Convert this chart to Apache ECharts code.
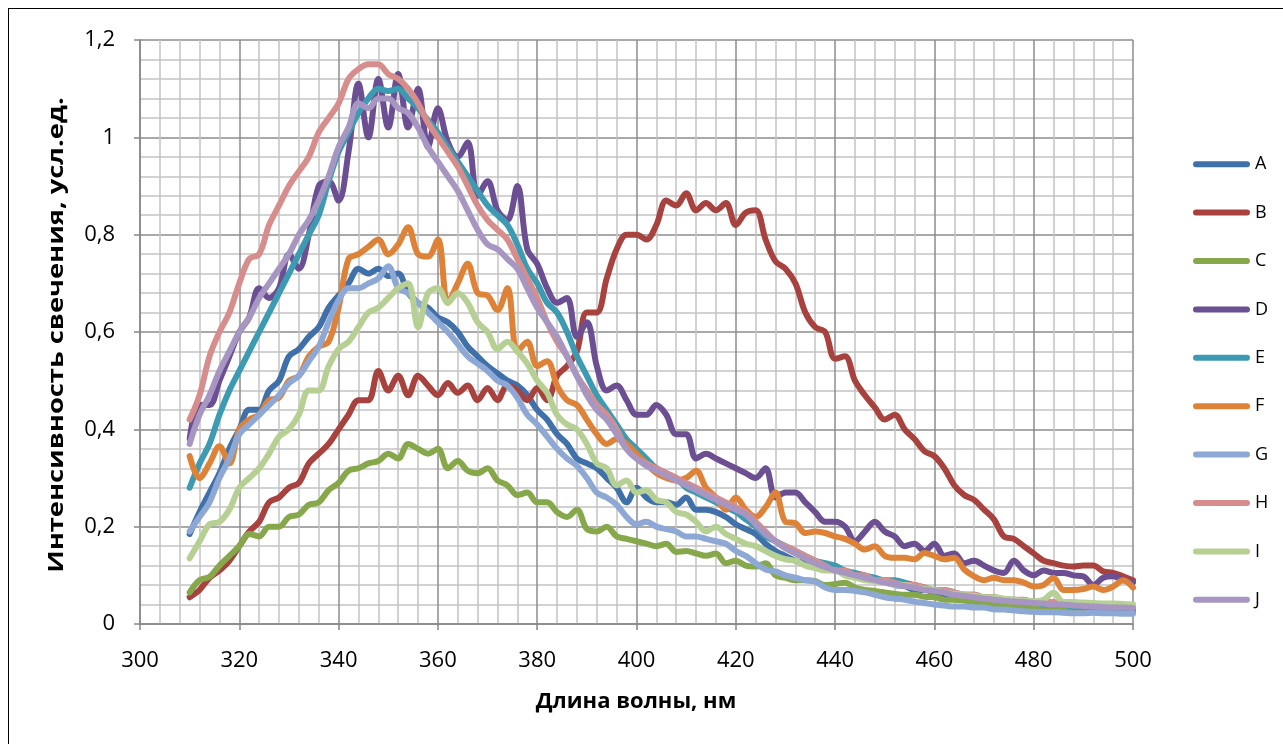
<!DOCTYPE html>
<html>
<head>
<meta charset="utf-8">
<script src="https://cdn.jsdelivr.net/npm/echarts@6/dist/echarts.min.js"></script>
<style>
  html, body { margin: 0; padding: 0; background: #fff; }
  #frame { position: absolute; left: 8px; top: 8px; width: 1290px; height: 760px; border-left: 1.5px solid #000; border-top: 1.5px solid #000; box-sizing: border-box; }
  #chart { position: absolute; left: 0; top: 0; width: 1283px; height: 744px; }
</style>
</head>
<body>
<div id="frame"></div>
<div id="chart"></div>
<script>
// Wavelengths, nm
const wavelengths = [310,312,314,316,318,320,322,324,326,328,330,332,334,336,338,340,342,344,346,348,350,352,354,356,358,360,362,364,366,368,370,372,374,376,378,380,382,384,386,388,390,392,394,396,398,400,402,404,406,408,410,412,414,416,418,420,422,424,426,428,430,432,434,436,438,440,442,444,446,448,450,452,454,456,458,460,462,464,466,468,470,472,474,476,478,480,482,484,486,488,490,492,494,496,498,500];

const seriesNames = ['A','B','C','D','E','F','G','H','I','J'];
const seriesColors = ['#4070AA','#A8423F','#86A84A','#6B4F92','#3C9BB3','#DE8238','#8DA8D4','#D68D8B','#B6CF93','#A796C2'];

const A = [0.185,0.23,0.27,0.31,0.36,0.40,0.44,0.44,0.48,0.50,0.55,0.565,0.59,0.61,0.65,0.675,0.70,0.73,0.72,0.73,0.715,0.72,0.68,0.66,0.65,0.63,0.62,0.60,0.57,0.55,0.53,0.515,0.50,0.49,0.47,0.44,0.42,0.39,0.37,0.34,0.33,0.32,0.30,0.28,0.25,0.28,0.26,0.25,0.25,0.245,0.26,0.235,0.235,0.23,0.22,0.205,0.195,0.185,0.165,0.15,0.14,0.13,0.125,0.12,0.115,0.11,0.105,0.10,0.095,0.09,0.088,0.08,0.078,0.07,0.07,0.065,0.06,0.06,0.055,0.055,0.05,0.05,0.045,0.045,0.04,0.04,0.04,0.035,0.035,0.035,0.03,0.032,0.03,0.028,0.03,0.028];
const B = [0.055,0.07,0.095,0.11,0.13,0.16,0.19,0.21,0.25,0.26,0.28,0.29,0.33,0.35,0.37,0.40,0.43,0.46,0.46,0.52,0.48,0.51,0.47,0.51,0.49,0.47,0.495,0.475,0.49,0.46,0.485,0.46,0.49,0.48,0.46,0.485,0.46,0.51,0.53,0.56,0.64,0.64,0.71,0.77,0.80,0.80,0.79,0.82,0.87,0.86,0.885,0.85,0.865,0.85,0.865,0.82,0.845,0.85,0.79,0.745,0.73,0.70,0.64,0.61,0.60,0.545,0.55,0.50,0.47,0.445,0.42,0.43,0.40,0.38,0.355,0.345,0.32,0.285,0.265,0.255,0.235,0.215,0.18,0.175,0.16,0.145,0.13,0.125,0.12,0.118,0.12,0.12,0.108,0.105,0.098,0.09];
const C = [0.065,0.09,0.097,0.12,0.14,0.16,0.185,0.18,0.20,0.20,0.22,0.225,0.245,0.25,0.275,0.29,0.315,0.32,0.33,0.335,0.35,0.34,0.37,0.36,0.35,0.36,0.32,0.335,0.315,0.31,0.32,0.295,0.285,0.265,0.27,0.25,0.25,0.23,0.22,0.235,0.195,0.19,0.20,0.18,0.175,0.17,0.165,0.16,0.165,0.148,0.15,0.145,0.14,0.145,0.125,0.13,0.12,0.118,0.125,0.10,0.095,0.09,0.09,0.088,0.08,0.082,0.085,0.075,0.07,0.068,0.065,0.062,0.06,0.06,0.056,0.055,0.05,0.05,0.048,0.045,0.045,0.04,0.04,0.038,0.036,0.035,0.034,0.033,0.032,0.03,0.03,0.029,0.028,0.027,0.026,0.025];
const D = [0.38,0.45,0.45,0.50,0.55,0.60,0.63,0.69,0.67,0.69,0.76,0.73,0.80,0.90,0.91,0.87,0.97,1.11,1.00,1.12,1.02,1.13,1.02,1.10,0.98,1.06,0.99,0.96,0.99,0.88,0.91,0.85,0.83,0.90,0.77,0.74,0.69,0.66,0.67,0.59,0.62,0.53,0.48,0.49,0.46,0.43,0.43,0.45,0.43,0.39,0.39,0.34,0.35,0.34,0.33,0.32,0.31,0.30,0.32,0.26,0.27,0.27,0.25,0.23,0.21,0.21,0.20,0.17,0.19,0.21,0.19,0.18,0.16,0.165,0.15,0.165,0.14,0.145,0.125,0.13,0.12,0.11,0.105,0.13,0.11,0.10,0.11,0.105,0.105,0.10,0.098,0.08,0.095,0.098,0.09,0.085];
const E = [0.28,0.33,0.37,0.43,0.48,0.52,0.56,0.60,0.64,0.68,0.72,0.76,0.80,0.84,0.91,0.97,1.01,1.05,1.08,1.10,1.095,1.10,1.08,1.06,1.035,1.01,0.98,0.95,0.92,0.89,0.86,0.84,0.82,0.78,0.73,0.70,0.66,0.64,0.60,0.55,0.51,0.47,0.44,0.41,0.38,0.36,0.34,0.32,0.31,0.30,0.28,0.27,0.26,0.25,0.24,0.23,0.215,0.20,0.18,0.17,0.16,0.15,0.14,0.13,0.125,0.12,0.11,0.105,0.10,0.095,0.09,0.09,0.085,0.08,0.075,0.07,0.07,0.065,0.06,0.06,0.055,0.055,0.05,0.05,0.045,0.045,0.04,0.04,0.04,0.035,0.035,0.035,0.03,0.03,0.03,0.03];
const F = [0.345,0.30,0.33,0.365,0.33,0.40,0.42,0.43,0.46,0.465,0.50,0.51,0.55,0.57,0.58,0.65,0.75,0.76,0.775,0.79,0.76,0.78,0.815,0.76,0.755,0.79,0.66,0.70,0.74,0.68,0.675,0.645,0.69,0.56,0.58,0.53,0.54,0.49,0.46,0.45,0.42,0.39,0.37,0.38,0.37,0.35,0.33,0.31,0.30,0.295,0.30,0.315,0.28,0.26,0.235,0.26,0.235,0.22,0.24,0.27,0.21,0.207,0.187,0.19,0.187,0.18,0.175,0.165,0.153,0.16,0.14,0.136,0.136,0.133,0.146,0.14,0.133,0.136,0.112,0.098,0.09,0.095,0.09,0.09,0.085,0.077,0.08,0.095,0.07,0.07,0.072,0.077,0.07,0.077,0.09,0.075];
const G = [0.19,0.22,0.25,0.30,0.34,0.39,0.41,0.43,0.45,0.47,0.495,0.51,0.54,0.57,0.62,0.665,0.69,0.69,0.70,0.71,0.735,0.69,0.68,0.66,0.64,0.62,0.60,0.575,0.55,0.535,0.52,0.50,0.49,0.465,0.43,0.41,0.385,0.36,0.34,0.325,0.30,0.27,0.26,0.245,0.22,0.205,0.21,0.20,0.195,0.19,0.18,0.18,0.175,0.17,0.165,0.15,0.14,0.125,0.112,0.108,0.10,0.095,0.09,0.087,0.075,0.07,0.07,0.068,0.065,0.06,0.055,0.052,0.05,0.046,0.043,0.04,0.038,0.036,0.036,0.034,0.034,0.03,0.03,0.028,0.026,0.025,0.024,0.024,0.023,0.022,0.022,0.023,0.022,0.022,0.021,0.021];
const H = [0.42,0.47,0.55,0.60,0.64,0.70,0.75,0.76,0.82,0.86,0.90,0.93,0.96,1.01,1.04,1.07,1.12,1.14,1.15,1.15,1.13,1.12,1.10,1.07,1.03,1.00,0.97,0.94,0.90,0.86,0.83,0.81,0.79,0.75,0.71,0.67,0.62,0.58,0.55,0.51,0.48,0.45,0.43,0.40,0.36,0.34,0.33,0.32,0.31,0.30,0.29,0.28,0.27,0.26,0.25,0.24,0.23,0.21,0.19,0.17,0.16,0.15,0.14,0.13,0.12,0.11,0.11,0.10,0.10,0.09,0.09,0.085,0.08,0.08,0.075,0.07,0.07,0.065,0.06,0.06,0.055,0.055,0.05,0.05,0.05,0.045,0.045,0.045,0.04,0.04,0.04,0.04,0.035,0.035,0.035,0.035];
const I = [0.135,0.17,0.205,0.21,0.235,0.28,0.30,0.32,0.35,0.385,0.40,0.43,0.48,0.48,0.53,0.565,0.58,0.61,0.64,0.65,0.67,0.69,0.70,0.61,0.68,0.69,0.66,0.68,0.66,0.62,0.60,0.565,0.58,0.56,0.535,0.50,0.475,0.43,0.41,0.40,0.37,0.33,0.32,0.285,0.295,0.27,0.275,0.255,0.25,0.23,0.225,0.21,0.19,0.20,0.185,0.175,0.165,0.16,0.15,0.14,0.133,0.13,0.12,0.115,0.11,0.11,0.10,0.095,0.09,0.088,0.085,0.08,0.08,0.075,0.072,0.07,0.065,0.062,0.06,0.058,0.055,0.055,0.052,0.05,0.048,0.047,0.05,0.064,0.045,0.045,0.044,0.043,0.042,0.042,0.041,0.04];
const J = [0.37,0.43,0.47,0.52,0.56,0.60,0.63,0.67,0.70,0.73,0.76,0.80,0.83,0.87,0.92,0.98,1.02,1.07,1.06,1.08,1.08,1.06,1.05,1.02,0.98,0.95,0.92,0.89,0.85,0.81,0.78,0.77,0.75,0.73,0.69,0.65,0.62,0.59,0.55,0.51,0.47,0.44,0.42,0.39,0.36,0.34,0.325,0.315,0.305,0.295,0.285,0.275,0.265,0.255,0.245,0.235,0.225,0.205,0.185,0.17,0.155,0.145,0.135,0.125,0.117,0.11,0.105,0.1,0.095,0.09,0.085,0.082,0.078,0.075,0.07,0.068,0.065,0.06,0.058,0.055,0.052,0.05,0.048,0.046,0.045,0.043,0.042,0.04,0.04,0.038,0.037,0.036,0.035,0.034,0.034,0.033];

const seriesValues = [A,B,C,D,E,F,G,H,I,J];

const yTickLabels = ['0','0,2','0,4','0,6','0,8','1','1,2'];
const xTitle = 'Длина волны, нм';
const yTitle = 'Интенсивность свечения, усл.ед.';

const chart = echarts.init(document.getElementById('chart'), null, {renderer: 'canvas'});
const FONT = 'Open Sans';

chart.setOption({
  animation: false,
  backgroundColor: 'transparent',
  grid: { left: 140, right: 150, top: 40, bottom: 120, containLabel: false },
  legend: {
    orient: 'vertical',
    left: 1188,
    top: 150,
    itemWidth: 57,
    itemHeight: 6,
    itemGap: 30,
    icon: 'path://M3,0 L54,0 A3,3 0 0 1 54,6 L3,6 A3,3 0 0 1 3,0 Z',
    textStyle: { fontFamily: FONT, fontSize: 18, color: '#000', lineHeight: 18.4 },
    data: seriesNames
  },
  graphic: [
    { type: 'text', x: 636, y: 702,
      style: { text: xTitle, font: 'bold 22px "Open Sans"', fill: '#000', align: 'center', verticalAlign: 'middle' } },
    { type: 'text', x: 57, y: 335, rotation: Math.PI / 2, scaleX: 1.24,
      style: { text: yTitle, font: 'bold 22px "Open Sans"', fill: '#000', align: 'center', verticalAlign: 'middle' } }
  ],
  xAxis: {
    type: 'value', min: 300, max: 500, interval: 20,
    axisLine: { show: true, lineStyle: { color: '#868686', width: 1.5 } },
    axisTick: { show: true, length: 6, inside: false, lineStyle: { color: '#868686', width: 1.5 } },
    axisLabel: { fontFamily: FONT, fontSize: 22, color: '#000', margin: 26 },
    splitLine: { show: true, lineStyle: { color: '#8C8C8C', width: 1.5 } },
    minorTick: { show: false, splitNumber: 5 },
    minorSplitLine: { show: true, lineStyle: { color: '#C3C3C3', width: 1.5 } }
  },
  yAxis: {
    type: 'value', min: 0, max: 1.2, interval: 0.2,
    axisLine: { show: true, lineStyle: { color: '#868686', width: 1.5 } },
    axisTick: { show: true, length: 6, inside: false, lineStyle: { color: '#868686', width: 1.5 } },
    axisLabel: { fontFamily: FONT, fontSize: 22, color: '#000', margin: 25,
      formatter: function (v) { return yTickLabels[Math.round(v / 0.2)]; } },
    splitLine: { show: true, lineStyle: { color: '#8C8C8C', width: 1.5 } },
    minorTick: { show: false, splitNumber: 5 },
    minorSplitLine: { show: true, lineStyle: { color: '#C3C3C3', width: 1.5 } }
  },
  series: seriesNames.map(function (name, k) {
    return {
      name: name,
      type: 'line',
      symbol: 'none',
      smooth: 0.35,
      color: seriesColors[k],
      lineStyle: { width: 6, color: seriesColors[k], cap: 'round', join: 'round' },
      data: wavelengths.map(function (w, i) { return [w, seriesValues[k][i]]; })
    };
  })
});
</script>
</body>
</html>
